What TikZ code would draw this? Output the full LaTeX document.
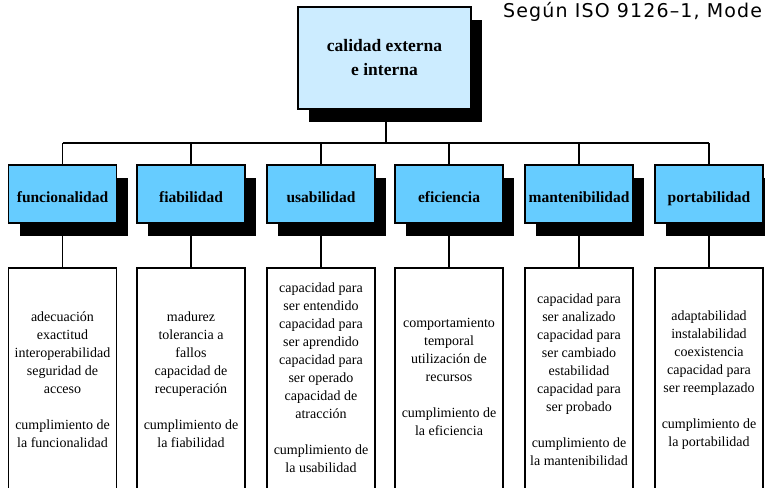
\documentclass[tikz,border=0pt]{standalone}
\usepackage{fontspec}
\setmainfont{Liberation Serif}
\newfontfamily\notefont[LetterSpace=6]{DejaVu Sans}
\usetikzlibrary{shadows}
\definecolor{topblue}{HTML}{CCECFF}
\definecolor{headblue}{HTML}{66CCFF}
\tikzset{
  conn/.style={draw=black, line width=1.6pt},
  shadowed/.style={draw=black, line width=1.6pt,
    drop shadow={shadow xshift=11pt, shadow yshift=-13pt, fill=black, opacity=1}},
  topbox/.style={shadowed, fill=topblue, minimum width=173pt, minimum height=102pt,
    inner sep=0pt, align=center, font=\fontsize{17.5}{24}\selectfont\bfseries},
  headbox/.style={shadowed, fill=headblue, minimum width=108pt, minimum height=58pt,
    inner sep=0pt, text height=16pt, text depth=0pt,
    font=\fontsize{15.5}{18}\selectfont\bfseries},
  listbox/.style={draw=black, line width=1.6pt, fill=white, minimum width=108pt,
    minimum height=240pt, inner sep=0pt, anchor=north},
  listtext/.style={inner sep=0pt, align=center, anchor=north,
    font=\fontsize{14}{18}\selectfont},
}
\begin{document}
\begin{tikzpicture}[x=1pt,y=-1pt]
\clip (0,0) rectangle (765,487);
\fill[white] (0,0) rectangle (765,487);

\coordinate (bus) at (386,143);

\node[topbox] (top) at (384.5,58) {calidad externa\\e interna};

\foreach \n/\x in {1/62.5, 2/191, 3/321, 4/449, 5/579, 6/709}{
  \node[listbox] (l\n) at (\x,267) {};
}

\draw[conn] (386,109) -- (bus);
\draw[conn] (62.5,143) -- (709,143);
\foreach \x in {62.5,191,321,449,579,709}{
  \draw[conn] (\x,143) -- (\x,166);
  \draw[conn] (\x,230) -- (\x,268);
}

\node[headbox] (h1) at (62.5,194) {funcionalidad};
\node[headbox] (h2) at (191,194) {fiabilidad};
\node[headbox] (h3) at (321,194) {usabilidad};
\node[headbox] (h4) at (449,194) {eficiencia};
\node[headbox] (h5) at (579,194) {mantenibilidad};
\node[headbox] (h6) at (709,194) {portabilidad};

\node[listtext] (t1) at (62.5,308.4) {\strut adecuación\\exactitud\\interoperabilidad\\seguridad de\\acceso\\[18pt]cumplimiento de\\la funcionalidad};
\node[listtext] (t2) at (191,308.4) {\strut madurez\\tolerancia a\\fallos\\capacidad de\\recuperación\\[18pt]cumplimiento de\\la fiabilidad};
\node[listtext] (t3) at (321,279.4) {\strut capacidad para\\ser entendido\\capacidad para\\ser aprendido\\capacidad para\\ser operado\\capacidad de\\atracción\\[18pt]cumplimiento de\\la usabilidad};
\node[listtext] (t4) at (449,314.4) {\strut comportamiento\\temporal\\utilización de\\recursos\\[18pt]cumplimiento de\\la eficiencia};
\node[listtext] (t5) at (579,290.4) {\strut capacidad para\\ser analizado\\capacidad para\\ser cambiado\\estabilidad\\capacidad para\\ser probado\\[18pt]cumplimiento de\\la mantenibilidad};
\node[listtext] (t6) at (709,307.4) {\strut adaptabilidad\\instalabilidad\\coexistencia\\capacidad para\\ser reemplazado\\[18pt]cumplimiento de\\la portabilidad};

\node[anchor=base west, inner sep=0pt, font=\notefont\fontsize{19}{22}\selectfont] (note) at (503,18) {Según ISO 9126–1, Mode};
\end{tikzpicture}
\end{document}
